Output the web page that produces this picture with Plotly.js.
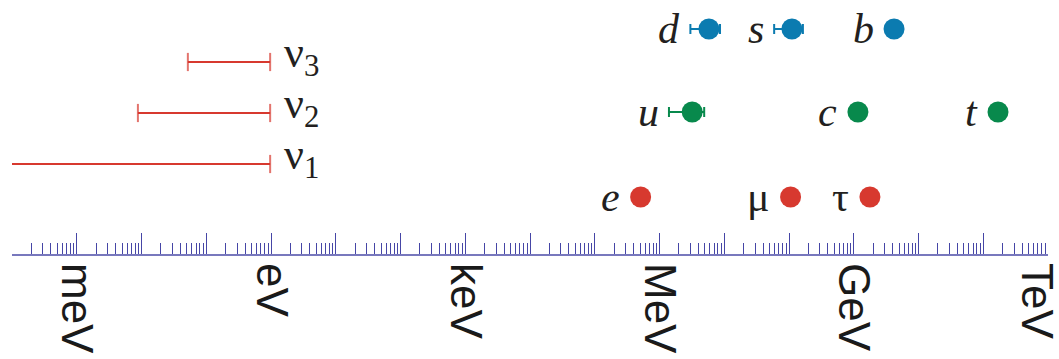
<!DOCTYPE html>
<html>
<head>
<meta charset="utf-8">
<script src="https://cdn.plot.ly/plotly-3.0.1.min.js"></script>
<style>html,body{margin:0;padding:0;background:#fff}#chart{width:1059px;height:359px}</style>
</head>
<body>
<div id="chart"></div>
<script>
// ---- data (masses in eV) ----
const downNames = ['d', 's', 'b'];
const downMass  = [5.8e6, 1.11e8, 4.19e9];
const downLo    = [3.0e6, 5.9e7, null];
const downHi    = [8.6e6, 1.64e8, null];

const upNames = ['u', 'c', 't'];
const upMass  = [3.2e6, 1.16e9, 1.69e11];
const upLo    = [1.4e6, null, null];
const upHi    = [4.9e6, null, null];

const leptonNames = ['e', 'μ', 'τ'];
const leptonMass  = [5.11e5, 1.057e8, 1.777e9];

const nuNames = ['1', '2', '3'];
const nuLo    = [null, 8.8e-3, 5.2e-2];
const nuHi    = [0.97, 0.97, 0.97];

const axisLabelVals = [1e-3, 1, 1e3, 1e6, 1e9];
const axisLabelText = ['meV', 'eV', 'keV', 'MeV', 'GeV'];
const edgeLabelVals = [1e12];
const edgeLabelText = ['TeV'];

// ---- layout / style ----
const xRange = [-4, 12];
const rows = {down: 225, nu3: 192, up: 142, nu2: 141, nu1: 90, lepton: 57};
const RED = '#d7392f', BLUE = '#0b7bb0', GREEN = '#08894c', INK = '#231f20';
const MS = 21, GAP = 8;
const serif = 'Liberation Serif, Times New Roman, serif';

const traces = [];
const annotations = [];

function family(names, mass, lo, hi, row, color) {
  const plus = mass.map((m, i) => hi && hi[i] != null ? hi[i] - m : 0);
  const minus = mass.map((m, i) => lo && lo[i] != null ? m - lo[i] : 0);
  traces.push({
    type: 'scatter', mode: 'markers', x: mass, y: mass.map(() => row),
    marker: {color: color, size: MS, line: {width: 0}},
    error_x: {type: 'data', symmetric: false, array: plus, arrayminus: minus,
              color: color, thickness: 2, width: 5},
    hoverinfo: 'skip', cliponaxis: false
  });
  names.forEach((n, i) => {
    const hasLo = lo && lo[i] != null;
    const latin = /^[a-z]$/.test(n);
    annotations.push({
      x: Math.log10(hasLo ? lo[i] : mass[i]), y: row, xref: 'x', yref: 'y',
      text: latin ? '<i>' + n + '</i>' : n, showarrow: false,
      xanchor: 'right', yanchor: 'middle',
      xshift: hasLo ? -GAP : -(MS / 2 + GAP),
      font: {family: serif, size: 42, color: INK}
    });
  });
}

family(downNames, downMass, downLo, downHi, rows.down, BLUE);
family(upNames, upMass, upLo, upHi, rows.up, GREEN);
family(leptonNames, leptonMass, null, null, rows.lepton, RED);

const nuRows = [rows.nu1, rows.nu2, rows.nu3];
nuNames.forEach((n, i) => {
  const start = nuLo[i] != null ? nuLo[i] : Math.pow(10, xRange[0]);
  traces.push({
    type: 'scatter', mode: 'lines+markers',
    x: [start, nuHi[i]], y: [nuRows[i], nuRows[i]],
    line: {color: RED, width: 2},
    marker: {symbol: 'line-ns-open', size: [nuLo[i] != null ? 13 : 0, 13],
             line: {color: RED, width: 2}, color: RED},
    hoverinfo: 'skip', cliponaxis: false
  });
  annotations.push({
    x: Math.log10(nuHi[i]), y: nuRows[i], xref: 'x', yref: 'y',
    text: 'ν<sub>' + n + '</sub>', showarrow: false,
    xanchor: 'left', yanchor: 'middle', xshift: 12, yshift: 7,
    font: {family: serif, size: 44, color: INK}
  });
});

// invisible traces to carry the label axes
traces.push({type: 'scatter', mode: 'markers', x: [1], y: [0], xaxis: 'x2',
             marker: {opacity: 0}, hoverinfo: 'skip', showlegend: false});
traces.push({type: 'scatter', mode: 'markers', x: [1], y: [0], xaxis: 'x3',
             marker: {opacity: 0}, hoverinfo: 'skip', showlegend: false});

const majorVals = [];
const minorVals = [];
for (let p = xRange[0]; p < xRange[1]; p++) {
  majorVals.push(Math.pow(10, p));
  for (let k = 2; k <= 9; k++) minorVals.push(k * Math.pow(10, p));
}

const labelFont = {family: 'Liberation Sans, Arial, sans-serif', size: 44, color: '#1a1a1a'};
const labelAxis = (vals, text, shift) => ({
  type: 'log', range: xRange, overlaying: 'x', side: 'bottom', anchor: 'y',
  showgrid: false, zeroline: false, showline: false, ticks: '',
  tickmode: 'array', tickvals: vals, ticktext: text,
  tickangle: 90, ticklabelstandoff: 8, ticklabeloverflow: 'allow',
  ticklabelshift: shift, tickfont: labelFont, fixedrange: true
});

const layout = {
  width: 1059, height: 359,
  margin: {l: 12, r: 11, t: 0, b: 105},
  paper_bgcolor: '#ffffff', plot_bgcolor: '#ffffff',
  showlegend: false,
  xaxis: {
    type: 'log', range: xRange, showgrid: false, zeroline: false,
    showline: true, linecolor: '#7878bd', linewidth: 2,
    ticks: 'inside', ticklen: 21, tickwidth: 1, tickcolor: '#4646a6',
    tickmode: 'array', tickvals: majorVals, showticklabels: false,
    minor: {tickmode: 'array', tickvals: minorVals, ticks: 'inside',
            ticklen: 11, tickwidth: 1, tickcolor: '#4646a6', showgrid: false},
    fixedrange: true
  },
  xaxis2: labelAxis(axisLabelVals, axisLabelText, 0),
  xaxis3: labelAxis(edgeLabelVals, edgeLabelText, -12),
  yaxis: {range: [0, 254], visible: false, fixedrange: true},
  annotations: annotations
};

Plotly.newPlot('chart', traces, layout, {displayModeBar: false, staticPlot: true});
</script>
</body>
</html>
